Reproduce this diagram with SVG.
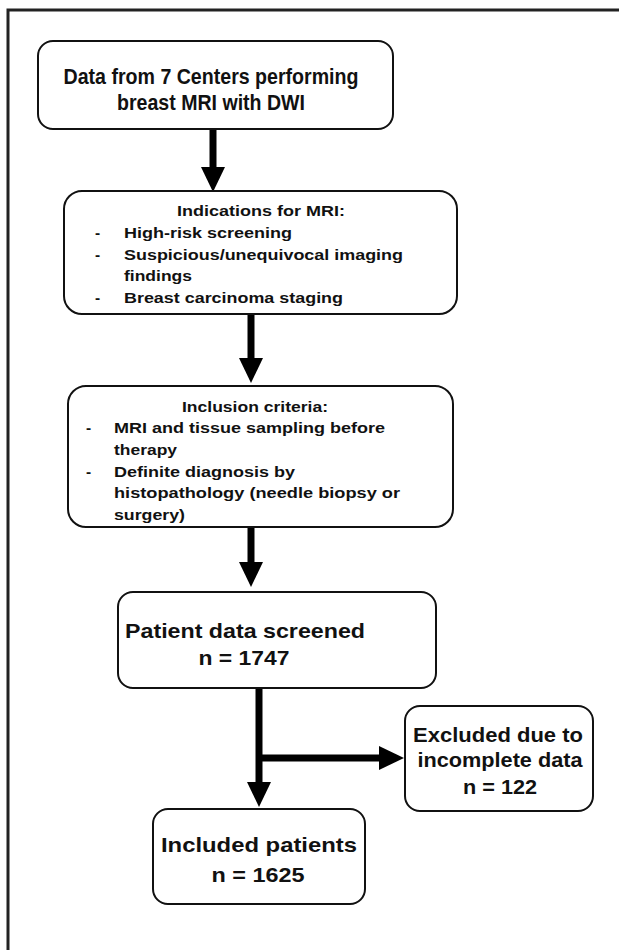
<svg xmlns="http://www.w3.org/2000/svg" width="619" height="950" viewBox="0 0 619 950">
<style>
.box{fill:#fff;stroke:#111;stroke-width:2}
.t{font-family:"Liberation Sans",Arial,sans-serif;font-weight:bold;fill:#111}
.c{text-anchor:middle}
.big{font-size:22px}
.med{font-size:21px}
.sm{font-size:15.5px}
.conn{stroke:#000;stroke-width:7;fill:none}
</style>
<defs>
<marker id="ah" viewBox="0 0 25 24" markerWidth="25" markerHeight="24" markerUnits="userSpaceOnUse" refX="0" refY="12" orient="auto">
<path d="M0,0 L25,12 L0,24 z" fill="#000"/>
</marker>
</defs>
<rect x="8" y="10" width="700" height="1000" fill="#fff" stroke="#222" stroke-width="3"/>
<g id="connectors">
<path class="conn" d="M213,129 V167" marker-end="url(#ah)"/>
<path class="conn" d="M251,314 V358" marker-end="url(#ah)"/>
<path class="conn" d="M251,527 V562" marker-end="url(#ah)"/>
<path class="conn" d="M259,688 V782" marker-end="url(#ah)"/>
<path class="conn" d="M256,758 H379" marker-end="url(#ah)"/>
</g>
<g id="n1">
<rect class="box" x="38" y="41" width="355" height="88" rx="15"/>
<text class="t c big" x="211" y="84" textLength="295" lengthAdjust="spacingAndGlyphs">Data from 7 Centers performing</text>
<text class="t c big" x="211" y="110" textLength="188" lengthAdjust="spacingAndGlyphs">breast MRI with DWI</text>
</g>
<g id="n2">
<rect class="box" x="64" y="191" width="393" height="123" rx="18"/>
<text class="t c sm" x="261" y="216" textLength="168" lengthAdjust="spacingAndGlyphs">Indications for MRI:</text>
<text class="t sm" x="95" y="238">-</text>
<text class="t sm" x="124" y="238" textLength="168" lengthAdjust="spacingAndGlyphs">High-risk screening</text>
<text class="t sm" x="95" y="260">-</text>
<text class="t sm" x="124" y="260" textLength="279" lengthAdjust="spacingAndGlyphs">Suspicious/unequivocal imaging</text>
<text class="t sm" x="124" y="281" textLength="68" lengthAdjust="spacingAndGlyphs">findings</text>
<text class="t sm" x="95" y="303">-</text>
<text class="t sm" x="124" y="303" textLength="219" lengthAdjust="spacingAndGlyphs">Breast carcinoma staging</text>
</g>
<g id="n3">
<rect class="box" x="68" y="386" width="385" height="141" rx="18"/>
<text class="t c sm" x="255" y="412" textLength="146" lengthAdjust="spacingAndGlyphs">Inclusion criteria:</text>
<text class="t sm" x="86" y="433">-</text>
<text class="t sm" x="114" y="433" textLength="271" lengthAdjust="spacingAndGlyphs">MRI and tissue sampling before</text>
<text class="t sm" x="114" y="455" textLength="63" lengthAdjust="spacingAndGlyphs">therapy</text>
<text class="t sm" x="86" y="477">-</text>
<text class="t sm" x="114" y="477" textLength="181" lengthAdjust="spacingAndGlyphs">Definite diagnosis by</text>
<text class="t sm" x="114" y="498" textLength="286" lengthAdjust="spacingAndGlyphs">histopathology (needle biopsy or</text>
<text class="t sm" x="114" y="520" textLength="71" lengthAdjust="spacingAndGlyphs">surgery)</text>
</g>
<g id="n4">
<rect class="box" x="118" y="592" width="318" height="96" rx="15"/>
<text class="t c med" x="245" y="638" textLength="240" lengthAdjust="spacingAndGlyphs">Patient data screened</text>
<text class="t c med" x="244" y="665" textLength="91" lengthAdjust="spacingAndGlyphs">n = 1747</text>
</g>
<g id="n5">
<rect class="box" x="405" y="706" width="188" height="105" rx="15"/>
<text class="t c med" x="498" y="742" textLength="170" lengthAdjust="spacingAndGlyphs">Excluded due to</text>
<text class="t c med" x="500" y="767" textLength="165" lengthAdjust="spacingAndGlyphs">incomplete data</text>
<text class="t c med" x="500" y="794" textLength="74" lengthAdjust="spacingAndGlyphs">n = 122</text>
</g>
<g id="n6">
<rect class="box" x="153" y="809" width="212" height="95" rx="15"/>
<text class="t c med" x="259" y="852" textLength="196" lengthAdjust="spacingAndGlyphs">Included patients</text>
<text class="t c med" x="258" y="882" textLength="93" lengthAdjust="spacingAndGlyphs">n = 1625</text>
</g>
</svg>
